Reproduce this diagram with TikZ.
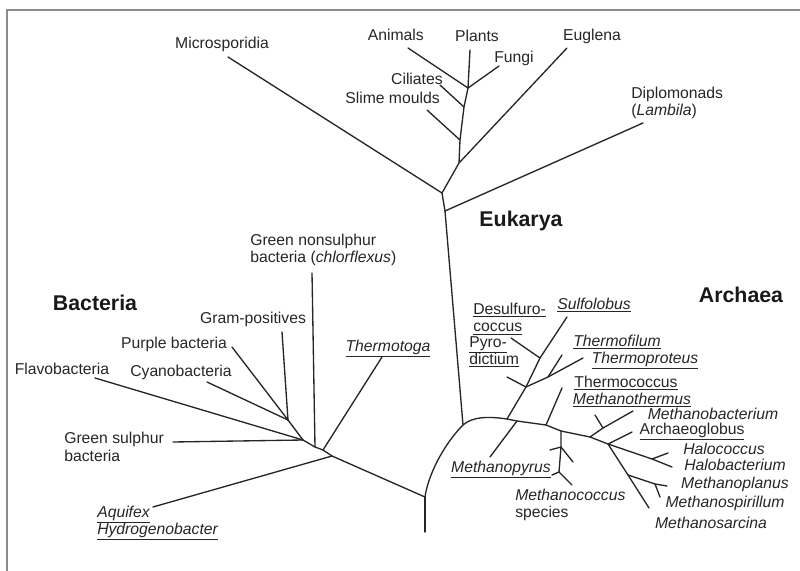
\documentclass[tikz,border=0pt]{standalone}
\usepackage{fontspec}
\setmainfont{Liberation Sans}
\begin{document}
\begin{tikzpicture}[x=0.75pt,y=-0.75pt,
  br/.style={line width=1pt, black!85, line cap=round, line join=round},
  lab/.style={font=\fontsize{11.8}{13}\selectfont, inner sep=0pt, text=black!85},
  ilab/.style={lab, font=\fontsize{11.8}{13}\selectfont\itshape},
  big/.style={font=\fontsize{16}{18}\selectfont\bfseries, inner sep=0pt, text=black!90},
  frame/.style={line width=1pt, black!45}]
\useasboundingbox (0,0) rectangle (800,571);
\draw[frame] (7,571) -- (7,10) -- (800,10);

% ---------- coordinates ----------
% root
\coordinate (R) at (425,497);
\coordinate (Rb) at (425,532);
\coordinate (AE) at (463,425);
% bacteria
\coordinate (B0) at (332,456);
\coordinate (Aq) at (153,507);
\coordinate (BT) at (323,450);
\coordinate (Tt) at (382,357);
\coordinate (BG) at (315,447);
\coordinate (Gn) at (312,273);
\coordinate (BF) at (303,440);
\coordinate (Fl) at (95,378);
\coordinate (Gs) at (173,442);
\coordinate (BC) at (288,420);
\coordinate (Gp) at (282,332);
\coordinate (Pb) at (232,347);
\coordinate (Cy) at (207,382);
% eukarya
\coordinate (ED) at (445,211);
\coordinate (E0) at (442,193);
\coordinate (Mi) at (228,57);
\coordinate (E1) at (459,163);
\coordinate (Eug) at (567,48);
\coordinate (Dip) at (643,123);
\coordinate (E2) at (460,140);
\coordinate (Sl) at (427,110);
\coordinate (E3) at (464,107);
\coordinate (Ci) at (440,85);
\coordinate (E4) at (468,88);
\coordinate (An) at (408,48);
\coordinate (Fu) at (499,66);
\coordinate (Pl) at (470,50);
% archaea
\coordinate (A1) at (507,419);
\coordinate (A2) at (517,421);
\coordinate (A3) at (546,425);
\coordinate (A4) at (561,431);
\coordinate (A5) at (590,437);
\coordinate (A6) at (608,444);
\coordinate (A7) at (652,459);
\coordinate (Hb) at (672,467);
\coordinate (Hc) at (668,453);
\coordinate (Su) at (567,317);
\coordinate (AD) at (540,358);
\coordinate (Ds) at (511,338);
\coordinate (AP) at (526,387);
\coordinate (Py) at (507,377);
\coordinate (Tp) at (583,358);
\coordinate (AF) at (548,377);
\coordinate (Tf) at (562,355);
\coordinate (Mp) at (490,457);
\coordinate (Tc) at (562,388);
\coordinate (M1) at (561,447);
\coordinate (M2) at (559,472);
\coordinate (M1a) at (550,450);
\coordinate (M1b) at (573,462);
\coordinate (M2a) at (552,475);
\coordinate (M2b) at (572,485);
\coordinate (MB1) at (603,428);
\coordinate (Mb) at (633,411);
\coordinate (MBt) at (595,415);
\coordinate (Ag) at (632,432);
\coordinate (MS1) at (628,475);
\coordinate (Ms) at (649,508);
\coordinate (Mpl) at (667,486);
\coordinate (MS2) at (655,484);
\coordinate (Msp) at (660,497);

% ---------- branches ----------
\draw[br] (Rb) -- (R);
\draw[br] (R) .. controls (428,475) and (444,444) .. (AE);
% bacteria
\draw[br] (R) -- (B0) -- (BT) -- (BG) -- (BF) -- (BC);
\draw[br] (B0) -- (Aq);
\draw[br] (BT) -- (Tt);
\draw[br] (BG) -- (Gn);
\draw[br] (BF) -- (Fl);
\draw[br] (BF) -- (Gs);
\draw[br] (BC) -- (Gp);
\draw[br] (BC) -- (Pb);
\draw[br] (BC) -- (Cy);
% eukarya
\draw[br] (AE) -- (ED) -- (E0) -- (E1) -- (E2) -- (E3) -- (E4) -- (Pl);
\draw[br] (E0) -- (Mi);
\draw[br] (ED) -- (Dip);
\draw[br] (E1) -- (Eug);
\draw[br] (E2) -- (Sl);
\draw[br] (E3) -- (Ci);
\draw[br] (E4) -- (An);
\draw[br] (E4) -- (Fu);
% archaea
\draw[br] (AE) .. controls (472,417) and (487,416) .. (A1) -- (A2) -- (A3) -- (A4) -- (A5) -- (A6) -- (A7) -- (Hb);
\draw[br] (A7) -- (Hc);
\draw[br] (A1) -- (AP) -- (AD) -- (Su);
\draw[br] (AD) -- (Ds);
\draw[br] (AP) -- (Py);
\draw[br] (AP) -- (AF) -- (Tp);
\draw[br] (AF) -- (Tf);
\draw[br] (A2) -- (Mp);
\draw[br] (A3) -- (Tc);
\draw[br] (A4) -- (M1) -- (M2);
\draw[br] (M1) -- (M1a);
\draw[br] (M1) -- (M1b);
\draw[br] (M2) -- (M2a);
\draw[br] (M2) -- (M2b);
\draw[br] (A5) -- (MB1) -- (Mb);
\draw[br] (MB1) -- (MBt);
\draw[br] (A6) -- (Ag);
\draw[br] (A6) -- (MS1) -- (Ms);
\draw[br] (MS1) -- (MS2) -- (Mpl);
\draw[br] (MS2) -- (Msp);

% ---------- labels ----------
\node[big] (lEuk) at (521,221) {Eukarya};
\node[big] (lBac) at (95,303) {Bacteria};
\node[big] (lArc) at (741,295) {Archaea};

\node[lab, anchor=base] (lMi) at (222,48) {Microsporidia};
\node[lab, anchor=base east] (lAn) at (424,40) {Animals};
\node[lab, anchor=base] (lPl) at (477,41) {Plants};
\node[lab, anchor=base] (lFu) at (514,62) {Fungi};
\node[lab, anchor=base] (lEug) at (592,40) {Euglena};
\node[lab, anchor=base east] (lCi) at (443,84) {Ciliates};
\node[lab, anchor=base east] (lSl) at (440,103) {Slime moulds};
\node[lab, anchor=west, align=left] (lDip) at (631,103) {Diplomonads\\(\textit{Lambila})};

\node[lab, anchor=west, align=left] (lGn) at (250,250) {Green nonsulphur\\bacteria (\textit{chlorflexus})};
\node[lab, anchor=base] (lGp) at (253,323) {Gram-positives};
\node[lab, anchor=base] (lPb) at (174,348) {Purple bacteria};
\node[lab, anchor=base] (lFl) at (62,374) {Flavobacteria};
\node[lab, anchor=base] (lCy) at (181,376) {Cyanobacteria};
\node[ilab, anchor=base] (lTt) at (388,351) {\underline{Thermotoga}};
\node[lab, anchor=west, align=left] (lGs) at (64,447) {Green sulphur\\bacteria};
\node[ilab, anchor=west, align=left] (lAq) at (97,523) {\underline{Aquifex}\\\underline{Hydrogenobacter}};

\node[lab, anchor=west, align=left] (lDs) at (473,319) {\underline{Desulfuro-}\\\underline{coccus}};
\node[ilab, anchor=base] (lSu) at (594,309) {\underline{Sulfolobus}};
\node[lab, anchor=west, align=left] (lPy) at (469,352) {\underline{Pyro-}\\\underline{dictium}};
\node[ilab, anchor=base] (lTf) at (617,346) {\underline{Thermofilum}};
\node[ilab, anchor=base] (lTp) at (645,363) {\underline{Thermoproteus}};
\node[lab, anchor=base] (lTc) at (626,387) {\underline{Thermococcus}};
\node[ilab, anchor=base] (lMt) at (632,404) {\underline{Methanothermus}};
\node[ilab, anchor=base] (lMb) at (713,419) {Methanobacterium};
\node[lab, anchor=base] (lAg) at (692,434) {\underline{Archaeoglobus}};
\node[ilab, anchor=base] (lHc) at (724,454) {Halococcus};
\node[ilab, anchor=base] (lHb) at (735,470) {Halobacterium};
\node[ilab, anchor=base] (lMpl) at (735,488) {Methanoplanus};
\node[ilab, anchor=base] (lMsp) at (725,507) {Methanospirillum};
\node[ilab, anchor=base] (lMs) at (711,528) {Methanosarcina};
\node[ilab, anchor=base] (lMp) at (501,472) {\underline{Methanopyrus}};
\node[lab, anchor=west, align=left] (lMc) at (515,505) {\textit{Methanococcus}\\species};
\end{tikzpicture}
\end{document}
